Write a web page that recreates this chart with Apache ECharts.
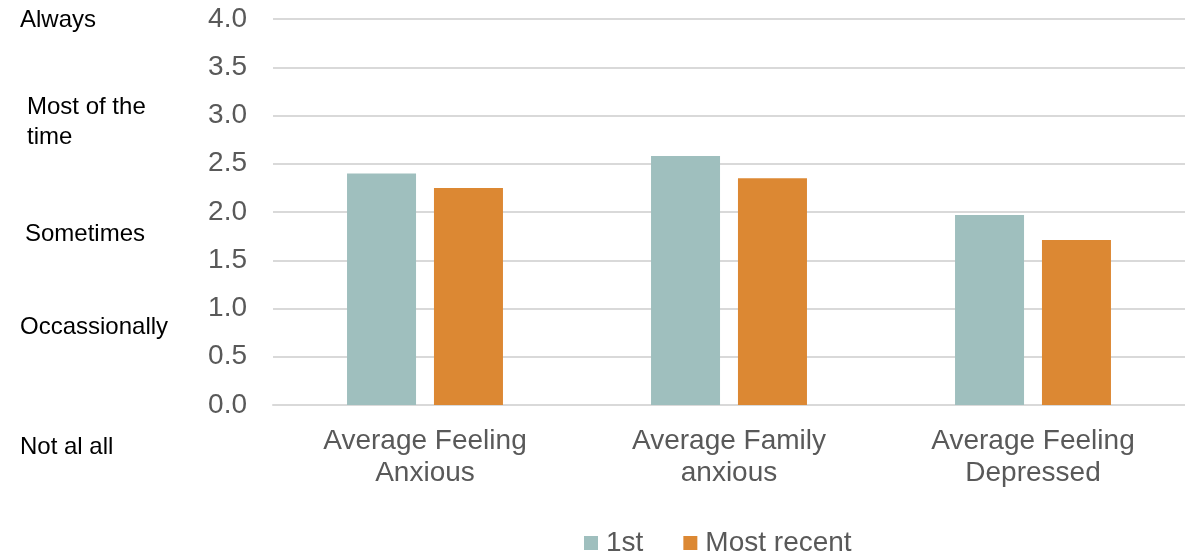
<!DOCTYPE html>
<html>
<head>
<meta charset="utf-8">
<script src="https://cdn.jsdelivr.net/npm/echarts@6/dist/echarts.min.js"></script>
<style>
  html, body { margin: 0; padding: 0; background: #fff; }
  #chart { width: 1185px; height: 556px; }
</style>
</head>
<body>
<div id="chart"></div>
<script>
// Survey averages: first response vs most recent response
const categories = ['Average Feeling\nAnxious', 'Average Family\nanxious', 'Average Feeling\nDepressed'];
const firstValues = [2.40, 2.58, 1.97];
const recentValues = [2.25, 2.35, 1.71];
const seriesNames = ['1st', 'Most recent'];
const scaleLabels = ['Always', 'Most of the\ntime', 'Sometimes', 'Occassionally', 'Not al all'];

const FONT = '"Liberation Sans", Arial, sans-serif';
const TEAL = '#9FBFBE';
const ORANGE = '#DC8833';

// Pixel anchors (left edge, vertical middle) for the descriptive scale labels
const scalePos = [
  { x: 20, y: 20 },
  { x: 27, y: 122 },
  { x: 25, y: 234 },
  { x: 20, y: 327 },
  { x: 20, y: 447 }
];

const chart = echarts.init(document.getElementById('chart'), null, { renderer: 'canvas' });

chart.setOption({
  animation: false,
  backgroundColor: '#ffffff',
  grid: { left: 273, top: 19, width: 924, height: 386, containLabel: false },
  legend: {
    data: seriesNames,
    left: 579,
    top: 523,
    itemWidth: 14,
    itemHeight: 14,
    itemGap: 40,
    icon: 'rect',
    textStyle: { fontFamily: FONT, fontSize: 28, lineHeight: 30, color: '#595959', padding: [0, 0, 0, 3] }
  },
  xAxis: {
    type: 'category',
    data: categories,
    axisLine: { show: true, lineStyle: { color: '#D9D9D9', width: 2 } },
    axisTick: { show: false },
    axisLabel: {
      fontFamily: FONT,
      fontSize: 28,
      lineHeight: 32,
      color: '#595959',
      margin: 20,
      interval: 0
    }
  },
  yAxis: {
    type: 'value',
    min: 0,
    max: 4,
    interval: 0.5,
    axisLine: { show: false },
    axisTick: { show: false },
    splitLine: { lineStyle: { color: '#D9D9D9', width: 2 } },
    axisLabel: {
      fontFamily: FONT,
      fontSize: 28,
      color: '#595959',
      margin: 26,
      formatter: v => v.toFixed(1)
    }
  },
  series: [
    {
      name: seriesNames[0],
      type: 'bar',
      data: firstValues,
      barWidth: 69,
      barGap: '26%',
      itemStyle: { color: TEAL }
    },
    {
      name: seriesNames[1],
      type: 'bar',
      data: recentValues,
      barWidth: 69,
      itemStyle: { color: ORANGE }
    }
  ],
  graphic: scaleLabels.map((t, i) => ({
    type: 'text',
    x: scalePos[i].x,
    y: scalePos[i].y,
    style: {
      text: t,
      font: '24px ' + FONT,
      fill: '#000000',
      lineHeight: 30,
      align: 'left',
      verticalAlign: 'middle'
    }
  }))
});
</script>
</body>
</html>
